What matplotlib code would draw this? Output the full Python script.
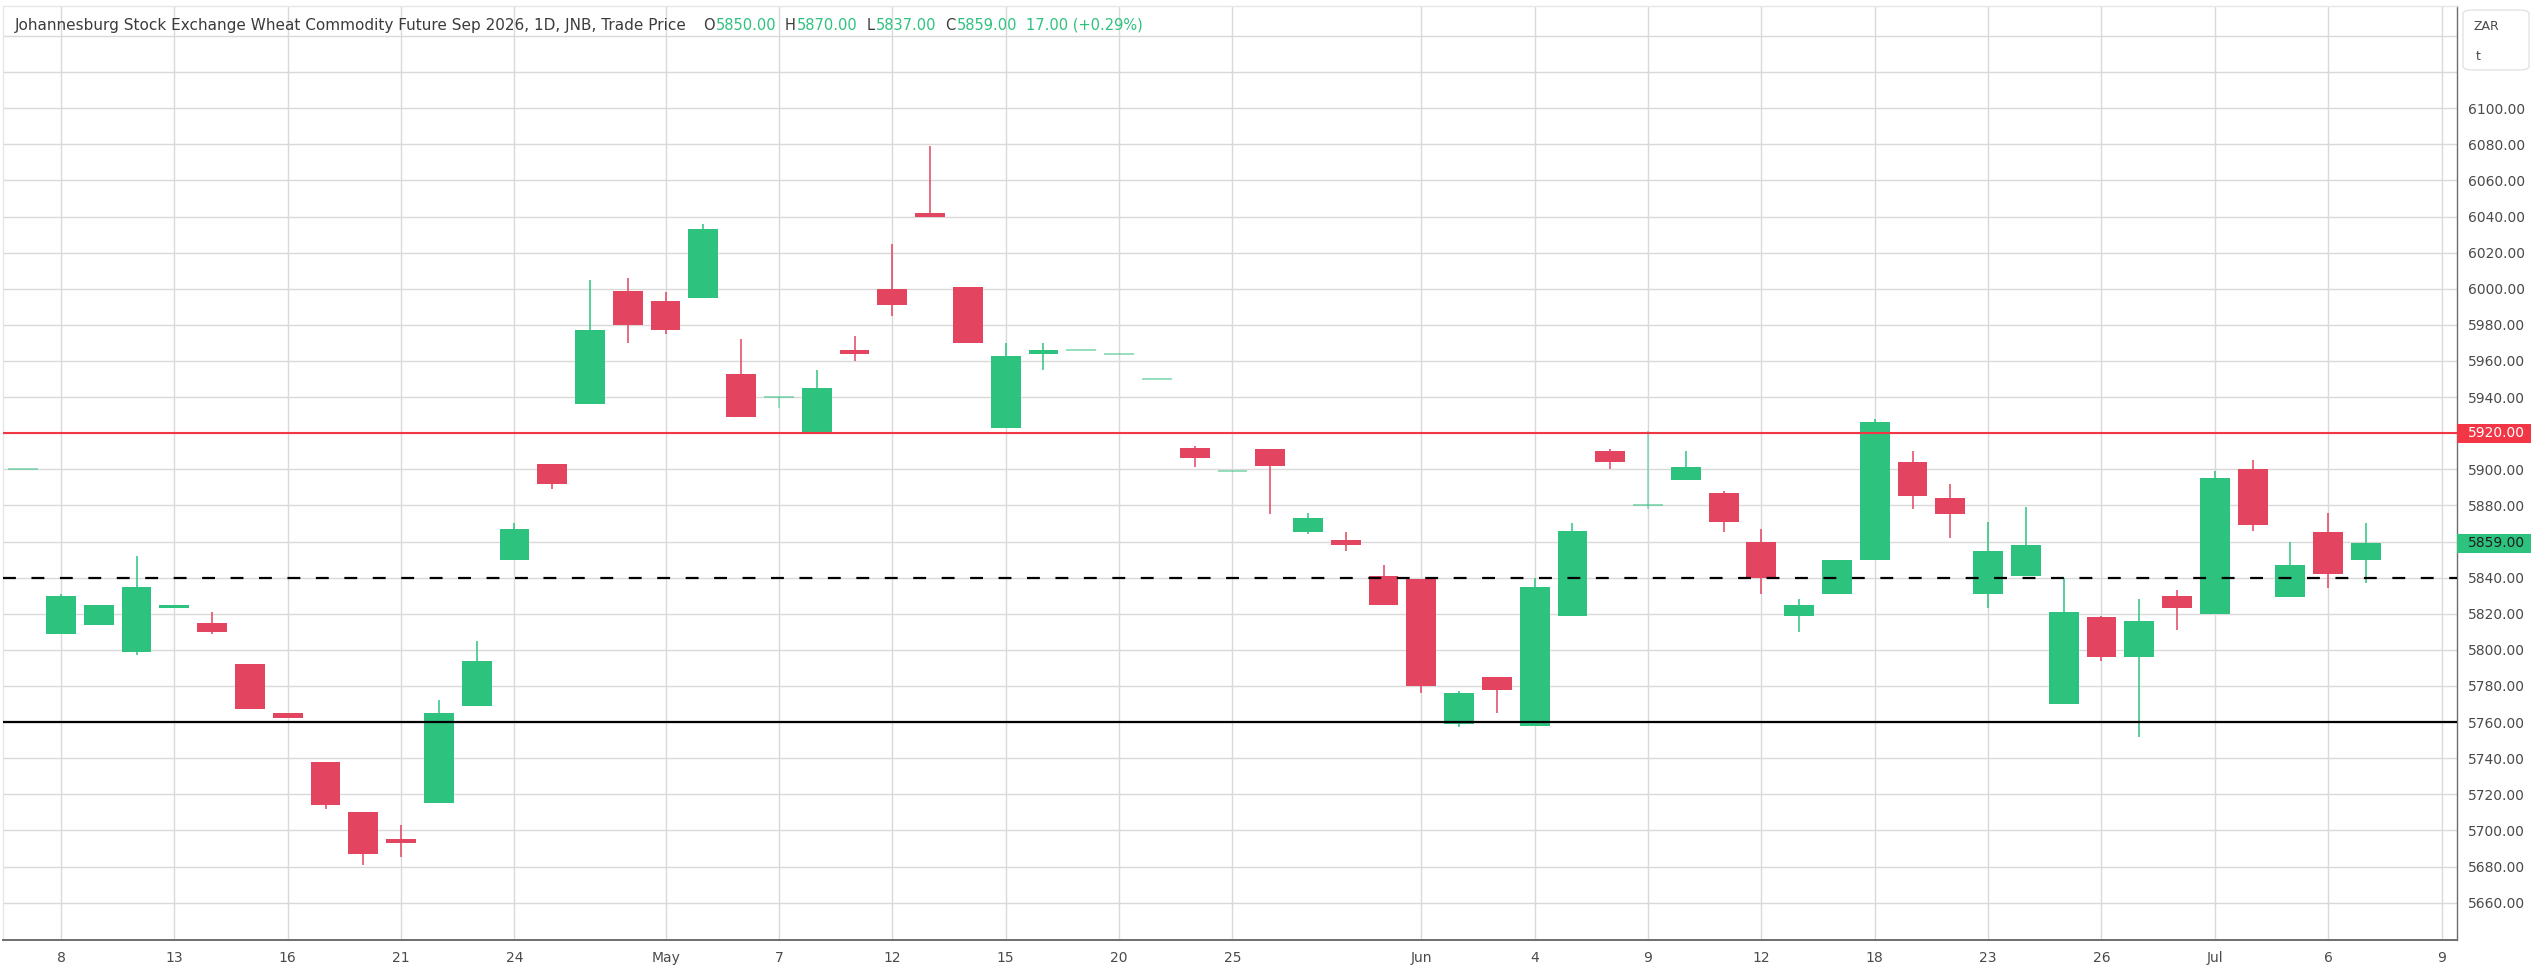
import matplotlib
matplotlib.use("Agg")
import matplotlib.pyplot as plt
from matplotlib.patches import Rectangle, FancyBboxPatch

# daily candles, JSE wheat Sep 2026
dates = ["2026-04-07", "2026-04-08", "2026-04-09", "2026-04-10", "2026-04-13", "2026-04-14",
         "2026-04-15", "2026-04-16", "2026-04-17", "2026-04-20", "2026-04-21", "2026-04-22",
         "2026-04-23", "2026-04-24", "2026-04-28", "2026-04-29", "2026-04-30", "2026-05-04",
         "2026-05-05", "2026-05-06", "2026-05-07", "2026-05-08", "2026-05-11", "2026-05-12",
         "2026-05-13", "2026-05-14", "2026-05-15", "2026-05-18", "2026-05-19", "2026-05-20",
         "2026-05-21", "2026-05-22", "2026-05-25", "2026-05-26", "2026-05-27", "2026-05-28",
         "2026-05-29", "2026-06-01", "2026-06-02", "2026-06-03", "2026-06-04", "2026-06-05",
         "2026-06-08", "2026-06-09", "2026-06-10", "2026-06-11", "2026-06-12", "2026-06-15",
         "2026-06-17", "2026-06-18", "2026-06-19", "2026-06-22", "2026-06-23", "2026-06-24",
         "2026-06-25", "2026-06-26", "2026-06-29", "2026-06-30", "2026-07-01", "2026-07-02",
         "2026-07-03", "2026-07-06", "2026-07-07"]
opens = [5900, 5809, 5814, 5799, 5823, 5815, 5792, 5765, 5738, 5710, 5695, 5715,
         5769, 5850, 5903, 5936, 5999, 5993, 5995, 5953, 5940, 5920, 5966, 6000,
         6042, 6001, 5923, 5964, 5966, 5964, 5950, 5912, 5899, 5911, 5865, 5861,
         5841, 5839, 5759, 5785, 5758, 5819, 5910, 5880, 5894, 5887, 5860, 5819,
         5831, 5850, 5904, 5884, 5831, 5841, 5770, 5818, 5796, 5830, 5820, 5900,
         5829, 5865, 5850]
highs = [5900, 5831, 5825, 5852, 5825, 5821, 5792, 5765, 5738, 5710, 5703, 5772,
         5805, 5870, 5903, 6005, 6006, 5998, 6036, 5972, 5940, 5955, 5974, 6025,
         6079, 6001, 5970, 5970, 5966, 5964, 5950, 5913, 5899, 5911, 5876, 5865,
         5847, 5839, 5777, 5785, 5840, 5870, 5911, 5921, 5910, 5888, 5867, 5828,
         5850, 5928, 5910, 5892, 5871, 5879, 5840, 5819, 5828, 5833, 5899, 5905,
         5860, 5876, 5870]
lows = [5900, 5809, 5814, 5797, 5823, 5809, 5767, 5762, 5712, 5681, 5685, 5715,
        5769, 5850, 5889, 5936, 5970, 5975, 5995, 5929, 5934, 5920, 5960, 5985,
        6040, 5970, 5923, 5955, 5966, 5964, 5950, 5901, 5899, 5875, 5864, 5855,
        5825, 5776, 5757, 5765, 5758, 5819, 5900, 5878, 5894, 5865, 5831, 5810,
        5831, 5850, 5878, 5862, 5823, 5841, 5770, 5794, 5752, 5811, 5820, 5866,
        5829, 5834, 5837]
closes = [5900, 5830, 5825, 5835, 5825, 5810, 5767, 5762, 5714, 5687, 5693, 5765,
          5794, 5867, 5892, 5977, 5980, 5977, 6033, 5929, 5940, 5945, 5964, 5991,
          6040, 5970, 5963, 5966, 5966, 5964, 5950, 5906, 5899, 5902, 5873, 5858,
          5825, 5780, 5776, 5778, 5835, 5866, 5904, 5880, 5901, 5871, 5840, 5825,
          5850, 5926, 5885, 5875, 5855, 5858, 5821, 5796, 5816, 5823, 5895, 5869,
          5847, 5842, 5859]

future_dates = ["2026-07-08", "2026-07-09"]
tick_dates = ["2026-04-08", "2026-04-13", "2026-04-16", "2026-04-21", "2026-04-24",
              "2026-05-04", "2026-05-07", "2026-05-12", "2026-05-15", "2026-05-20",
              "2026-05-25", "2026-06-01", "2026-06-04", "2026-06-09", "2026-06-12",
              "2026-06-18", "2026-06-23", "2026-06-26", "2026-07-01", "2026-07-06",
              "2026-07-09"]
tick_labels = ["8", "13", "16", "21", "24", "May", "7", "12", "15", "20", "25",
               "Jun", "4", "9", "12", "18", "23", "26", "Jul", "6", "9"]
price_grid = list(range(5660, 6141, 20))
hidden_labels = [5860, 5920, 6120, 6140]
red_level = 5920
dashed_level = 5840
black_level = 5760

UP = "#2dc27d"
DOWN = "#e3445f"
TXT = "#3c3c3c"
W, H = 2532, 972

fig = plt.figure(figsize=(W / 100, H / 100), dpi=100)
ax = fig.add_axes([3 / W, 1 - 940 / H, (2457 - 3) / W, (940 - 6) / H])

xs = list(range(len(dates)))
for i, o, h, l, c in zip(xs, opens, highs, lows, closes):
    col = UP if c >= o else DOWN
    if o == c:
        # flat body -> thin pale line
        ax.hlines(o, i - 0.39, i + 0.39, color=col, lw=1.3, alpha=0.55, zorder=3)
        if h > l:
            ax.vlines(i, l, h, color=col, lw=1.1, alpha=0.55, zorder=3)
        continue
    ax.vlines(i, l, h, color=col, lw=1.1, zorder=2)
    ax.bar(i, abs(c - o), bottom=min(o, c), width=0.79, color=col, lw=0, zorder=3)

ax.axhline(red_level, color="#f23645", lw=1.5, zorder=4)
ax.axhline(black_level, color="black", lw=1.6, zorder=4)
ax.axhline(dashed_level, color="black", lw=1.6, dashes=(5.8, 7.0), zorder=4)

all_dates = dates + future_dates
ax.set_xticks([all_dates.index(d) for d in tick_dates])
ax.set_xticklabels(tick_labels)
ax.set_xlim(-0.535, 64.41)
ax.set_ylim(5639.3, 6156.6)

ax.yaxis.tick_right()
ax.set_yticks(price_grid)
ax.set_yticklabels(["" if v in hidden_labels else f"{v:.2f}" for v in price_grid])
ax.tick_params(axis="y", length=0, pad=8, labelsize=10, labelcolor="#4a4a4a")
ax.tick_params(axis="x", length=0, pad=8, labelsize=10, labelcolor="#4a4a4a")

ax.grid(True, color="#d9d9d9", lw=1.0)
ax.set_axisbelow(True)
for s in ["top", "left"]:
    ax.spines[s].set_color("#e6e6e6")
    ax.spines[s].set_linewidth(1.0)
ax.spines["bottom"].set_color("#6e6e6e")
ax.spines["bottom"].set_linewidth(1.4)
ax.spines["right"].set_color("#6e6e6e")
ax.spines["right"].set_linewidth(1.0)

# price tags on the axis
ytr = ax.get_yaxis_transform()
box_w = 74 / 2454
box_h = 19 / 1.8055
for level, bg, fg in [(red_level, "#f23645", "white"), (closes[-1], UP, "#1e1e1e")]:
    ax.add_patch(Rectangle((1.0, level - box_h / 2), box_w, box_h, transform=ytr,
                           facecolor=bg, edgecolor="none", clip_on=False, zorder=5))
    ax.text(1.0 + 11 / 2454, level, f"{level:.2f}", transform=ytr, color=fg,
            fontsize=10, va="center", ha="left", zorder=6)

# currency / unit box
fig.patches.append(FancyBboxPatch((2463 / W, 1 - 70 / H), 66 / W, 60 / H,
                                  boxstyle="round,pad=0,rounding_size=0.004",
                                  transform=fig.transFigure, facecolor="white",
                                  edgecolor="#e3e3e3", lw=1))
fig.text(2474 / W, 1 - 27 / H, "ZAR", fontsize=9, color="#4a4a4a", va="center")
fig.text(2476 / W, 1 - 57 / H, "t", fontsize=9, color="#4a4a4a", va="center")

# header legend
chg = closes[-1] - closes[-2]
pct = chg / closes[-2] * 100
pieces = [("Johannesburg Stock Exchange Wheat Commodity Future Sep 2026, 1D, JNB, Trade Price", TXT, 16, 11),
          ("O", TXT, 1, 10.5), (f"{opens[-1]:.2f}", UP, 9, 10.5),
          ("H", TXT, 1, 10.5), (f"{highs[-1]:.2f}", UP, 9, 10.5),
          ("L", TXT, 1, 10.5), (f"{lows[-1]:.2f}", UP, 9, 10.5),
          ("C", TXT, 1, 10.5), (f"{closes[-1]:.2f}", UP, 9, 10.5),
          (f"{chg:.2f} ({pct:+.2f}%)", UP, 0, 10.5)]
r = fig.canvas.get_renderer()
xp = 15
for s, col, gap, fs in pieces:
    t = fig.text(xp / W, 1 - 30 / H, s, color=col, fontsize=fs, va="baseline", ha="left")
    xp += t.get_window_extent(r).width + gap

fig.savefig("out.png", dpi=100, facecolor="white")
